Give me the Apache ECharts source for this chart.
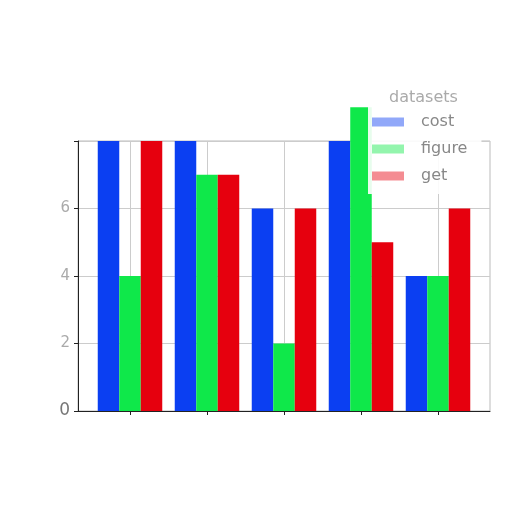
<!DOCTYPE html>
<html>
<head>
<meta charset="utf-8">
<script src="https://cdn.jsdelivr.net/npm/echarts@6/dist/echarts.min.js"></script>
<style>
    html, body { margin: 0; padding: 0; background: #fff; }
    #Echarts1 { width: 512px; height: 512px; }
</style>
</head>
<body>
<div id="Echarts1"></div>
<script>
/************** 数据 ***************/
var categories = ['1', '2', '3', '4', '5'];
var seriesNames = ['cost', 'figure', 'get'];
var costData = [8, 8, 6, 8, 4];
var figureData = [4, 7, 2, 9, 4];
var getData = [8, 7, 6, 5, 6];
var yTicks = [0, 2, 4, 6, 8];
var colors = ['#0b3ff2', '#0fe84a', '#e6000e'];

/*************** 初始化 *********************/
initEcharts1();

function initEcharts1() {
    var myChart = echarts.init(document.getElementById('Echarts1'));

    var yMax = yTicks[yTicks.length - 1];

    var option = {
        animation: false,
        title: {
            text: 'datasets',
            left: 384,
            top: 85,
            z: 10,
            textStyle: { color: '#aaa', fontSize: 16, fontWeight: 'normal', fontFamily: 'DejaVu Sans' }
        },
        legend: {
            data: seriesNames,
            orient: 'vertical',
            left: 368,
            top: 85,
            padding: [29, 14, 10, 4],
            itemGap: 11,
            itemWidth: 32,
            itemHeight: 9,
            icon: 'rect',
            backgroundColor: 'rgba(255,255,255,0.9)',
            itemStyle: { opacity: 0.45 },
            textStyle: { color: '#888', fontSize: 16, fontFamily: 'DejaVu Sans', padding: [0, 0, 0, 12] }
        },
        grid: [
            // 外框
            { left: 78, top: 141, width: 412, height: 270, show: true, borderColor: '#bbb', borderWidth: 1 },
            // 柱子
            { left: 91.5, top: 141, width: 385, height: 270 }
        ],
        xAxis: [
            {
                type: 'value', gridIndex: 0, min: 0, max: 1,
                axisLine: { show: true, lineStyle: { color: '#222', width: 1 } },
                axisTick: { show: false },
                axisLabel: { show: false },
                splitLine: { show: false }
            },
            {
                type: 'category', gridIndex: 1, data: categories,
                axisLine: { show: false },
                axisTick: { show: true, alignWithLabel: true, length: 4, lineStyle: { color: '#222' } },
                axisLabel: { show: false },
                splitLine: { show: true, alignWithLabel: true, lineStyle: { color: '#ccc' } }
            }
        ],
        yAxis: [
            {
                type: 'value', gridIndex: 0, min: 0, max: yMax, interval: 2,
                axisLine: { show: true, lineStyle: { color: '#222', width: 1 } },
                axisTick: { show: true, length: 4, lineStyle: { color: '#222' } },
                axisLabel: {
                    color: '#aaa', fontSize: 15, fontFamily: 'DejaVu Sans', margin: 8,
                    formatter: function (v) {
                        if (v === yMax) return '';
                        if (v === 0) return '{z|0}';
                        return String(v);
                    },
                    rich: { z: { color: '#777', fontSize: 17, fontFamily: 'DejaVu Sans' } }
                },
                splitLine: { show: true, lineStyle: { color: '#ccc' } }
            },
            {
                type: 'value', gridIndex: 1, min: 0, max: yMax, show: false
            }
        ],
        series: [
            {
                name: seriesNames[0], type: 'bar', xAxisIndex: 1, yAxisIndex: 1,
                barWidth: 21.5, barGap: '0%', clip: false,
                itemStyle: { color: colors[0] },
                data: costData
            },
            {
                name: seriesNames[1], type: 'bar', xAxisIndex: 1, yAxisIndex: 1,
                barWidth: 21.5, barGap: '0%', clip: false,
                itemStyle: { color: colors[1] },
                data: figureData
            },
            {
                name: seriesNames[2], type: 'bar', xAxisIndex: 1, yAxisIndex: 1,
                barWidth: 21.5, barGap: '0%', clip: false,
                itemStyle: { color: colors[2] },
                data: getData
            }
        ]
    };

    myChart.setOption(option);
}
</script>
</body>
</html>
